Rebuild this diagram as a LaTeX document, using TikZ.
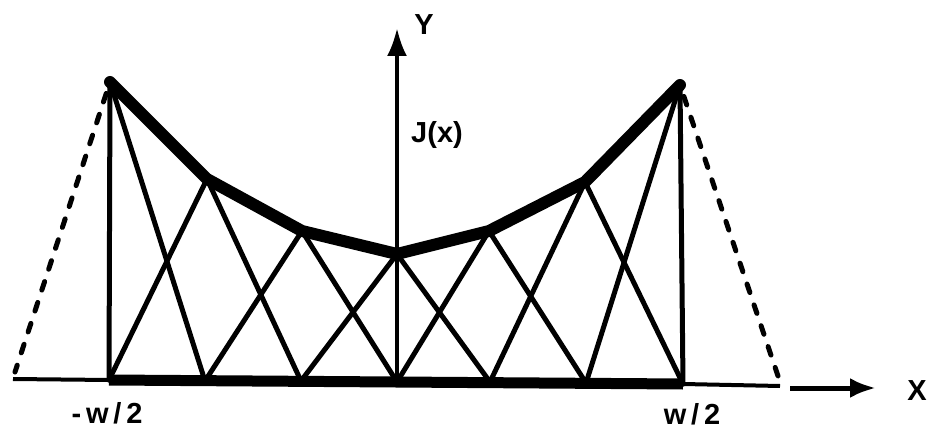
\documentclass[tikz,border=0pt]{standalone}
\usepackage{fontspec}
\setmainfont{Liberation Sans}
\usetikzlibrary{arrows.meta}
\begin{document}
\begin{tikzpicture}[x=1pt,y=-1pt,
  thinline/.style={line width=5pt,line cap=round,line join=round},
  thickline/.style={line width=12pt,line cap=round,line join=round},
  axisline/.style={line width=4pt},
  dashline/.style={line width=5pt,line cap=round,dash pattern=on 9pt off 13pt},
  lbl/.style={font=\fontsize{29}{32}\selectfont\bfseries,inner sep=0pt}]
\useasboundingbox (0,0) rectangle (931,430);
% top points
\coordinate (t1) at (110,82);
\coordinate (t2) at (207,179);
\coordinate (t3) at (302,231);
\coordinate (t4) at (397,254);
\coordinate (t5) at (489,231);
\coordinate (t6) at (585,182);
\coordinate (t7) at (680,85);
% bottom points
\coordinate (b1) at (109,380);
\coordinate (b2) at (205,381);
\coordinate (b3) at (301,381);
\coordinate (b4) at (397,382);
\coordinate (b5) at (490,382);
\coordinate (b6) at (586,383);
\coordinate (b7) at (683,384);
% baseline ends
\coordinate (l0) at (13,379);
\coordinate (r0) at (780,386);
\coordinate (dl) at (15,372);
\coordinate (dr) at (778,376);
% axes
\coordinate (yb) at (397,384);
\coordinate (yt) at (397,28);
\coordinate (xa) at (790,388);
\coordinate (xb) at (876,388);
% thin baseline
\draw[axisline] (l0) -- (b1);
\draw[axisline] (b7) -- (r0);
% bottom thick
\draw[line width=11pt] (b1) -- (b7);
% verticals
\draw[thinline] (t1) -- (b1);
\draw[thinline] (t7) -- (b7);
% diagonals
\draw[thinline] (t1) -- (b2);
\draw[thinline] (t2) -- (b1);
\draw[thinline] (t2) -- (b3);
\draw[thinline] (t3) -- (b2);
\draw[thinline] (t3) -- (b4);
\draw[thinline] (t4) -- (b3);
\draw[thinline] (t4) -- (b5);
\draw[thinline] (t5) -- (b4);
\draw[thinline] (t5) -- (b6);
\draw[thinline] (t6) -- (b5);
\draw[thinline] (t6) -- (b7);
\draw[thinline] (t7) -- (b6);
% dashed sides
\draw[dashline,shorten <=12pt] (t1) -- (dl);
\draw[dashline,shorten <=12pt] (t7) -- (dr);
% top curve
\draw[thickline] (t1) -- (t2) -- (t3) -- (t4) -- (t5) -- (t6) -- (t7);
% axes
\draw[axisline,-{Latex[length=28pt,width=20pt]}] (yb) -- (yt);
\draw[line width=5pt,-{Latex[length=26pt,width=20pt]}] (xa) -- (xb);
% labels
\node[lbl] (ylab) at (424,25) {Y};
\node[lbl] (xlab) at (917,391) {X};
\node[lbl] (jlab) at (437,135) {J(x)};
\node[lbl] (lw) at (107,413) {-\,w\,/\,2};
\node[lbl] (rw) at (692,414) {w\,/\,2};
\end{tikzpicture}
\end{document}
